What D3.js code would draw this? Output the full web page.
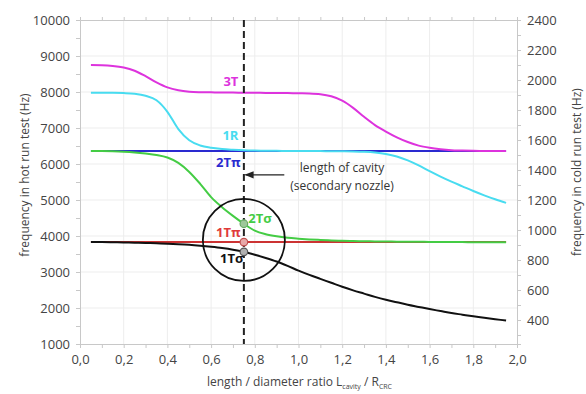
<!DOCTYPE html>
<html>
<head>
<meta charset="utf-8">
<script src="https://cdn.jsdelivr.net/npm/d3@7"></script>
<style>
  body { margin: 0; background: #fff; }
  text { font-family: 'Open Sans', 'Noto Sans', sans-serif; }
</style>
</head>
<body>
<svg id="chart" width="586" height="394"></svg>
<script>
// length / diameter ratio
const ratio = [0.05, 0.1, 0.15, 0.2, 0.25, 0.3, 0.35, 0.4, 0.45, 0.5, 0.55, 0.6, 0.65, 0.7,
  0.75, 0.8, 0.85, 0.9, 0.95, 1.0, 1.05, 1.1, 1.15, 1.2, 1.25, 1.3, 1.35, 1.4, 1.45, 1.5,
  1.55, 1.6, 1.65, 1.7, 1.75, 1.8, 1.85, 1.9, 1.95];
const ratioFlat = [0.05, 1.95];

// frequency in hot run test (Hz)
const mode3T = [8750, 8745, 8725, 8680, 8590, 8440, 8270, 8130, 8050, 8010, 7995, 7990, 7985, 7985,
  7980, 7980, 7975, 7975, 7970, 7965, 7960, 7940, 7880, 7760, 7560, 7310, 7080, 6900, 6740, 6610,
  6510, 6450, 6410, 6385, 6375, 6365, 6360, 6360, 6360];
const mode1R = [7980, 7980, 7978, 7970, 7950, 7895, 7770, 7450, 6970, 6660, 6515, 6450, 6415, 6395,
  6380, 6372, 6368, 6365, 6362, 6360, 6360, 6358, 6356, 6354, 6350, 6340, 6320, 6280, 6210, 6100,
  5960, 5800, 5650, 5510, 5380, 5250, 5130, 5020, 4920];
const mode2Tpi = [6360, 6360];
const mode2Tsigma = [6360, 6358, 6352, 6340, 6320, 6290, 6250, 6180, 6030, 5780, 5450, 5080, 4800, 4560,
  4340, 4150, 4050, 3990, 3950, 3925, 3905, 3890, 3878, 3868, 3860, 3855, 3850, 3846, 3843, 3840,
  3838, 3836, 3834, 3832, 3830, 3828, 3826, 3825, 3825];
const mode1Tpi = [3830, 3830];
const mode1Tsigma = [3830, 3830, 3826, 3820, 3814, 3806, 3797, 3787, 3773, 3755, 3730, 3700, 3665, 3620,
  3560, 3480, 3390, 3290, 3170, 3040, 2920, 2810, 2700, 2590, 2490, 2400, 2310, 2230, 2160, 2090,
  2030, 1970, 1915, 1860, 1815, 1770, 1730, 1690, 1650];

// design point: length of cavity
const cavityRatio = 0.75;
const cavityPoints = [
  { mode: '2Tσ', value: 4340, fill: '#9ec89a', stroke: '#6aa866' },
  { mode: '1Tπ', value: 3830, fill: '#e8a8a8', stroke: '#c05050' },
  { mode: '1Tσ', value: 3560, fill: '#b0b0b0', stroke: '#555' }
];

const series = [
  { name: '2Tπ', xs: ratioFlat, values: mode2Tpi, color: '#2a2ad0' },
  { name: '1Tπ', xs: ratioFlat, values: mode1Tpi, color: '#cc3333' },
  { name: '1Tσ', xs: ratio, values: mode1Tsigma, color: '#111' },
  { name: '2Tσ', xs: ratio, values: mode2Tsigma, color: '#44cc44' },
  { name: '1R', xs: ratio, values: mode1R, color: '#48dcf0' },
  { name: '3T', xs: ratio, values: mode3T, color: '#dd33dd' }
];

let svg = d3.select('#chart');
const plotLeft = 80, plotRight = 517, plotTop = 20, plotBottom = 344;

let x = d3.scaleLinear().domain([0, 2]).range([plotLeft, plotRight]);
let yHot = d3.scaleLinear().domain([1000, 10000]).range([plotBottom, plotTop]);
let yCold = d3.scaleLinear().domain([240, 2400]).range([plotBottom, plotTop]);

const gridColor = '#ededed', axisColor = '#c8c8c8', labelColor = '#444';

// grid
svg.append('g').selectAll('line')
  .data(d3.range(0.2, 1.9, 0.2))
  .enter().append('line')
  .attr('x1', (d) => x(d)).attr('x2', (d) => x(d))
  .attr('y1', plotTop).attr('y2', plotBottom)
  .attr('stroke', gridColor);
svg.append('g').selectAll('line')
  .data(d3.range(2000, 10000, 1000))
  .enter().append('line')
  .attr('x1', plotLeft).attr('x2', plotRight)
  .attr('y1', (d) => yHot(d)).attr('y2', (d) => yHot(d))
  .attr('stroke', gridColor);

// axes
function styleAxis(g) {
  g.select('.domain').attr('stroke', axisColor);
  g.selectAll('.tick line').attr('stroke', axisColor);
  g.selectAll('.tick text').attr('fill', labelColor).style('font-size', '13px');
}

let fmt = (d) => d.toFixed(1).replace('.', ',');

svg.append('g')
  .attr('transform', 'translate(0,' + plotBottom + ')')
  .call(d3.axisBottom(x).tickValues(d3.range(0, 2.01, 0.1)).tickSize(4).tickPadding(7)
    .tickFormat((d, i) => i % 2 ? '' : fmt(d)))
  .call(styleAxis);
svg.append('g')
  .attr('transform', 'translate(0,' + plotTop + ')')
  .call(d3.axisTop(x).tickValues(d3.range(0, 2.01, 0.1)).tickSize(3).tickFormat(''))
  .call(styleAxis);
svg.append('g')
  .attr('transform', 'translate(' + plotLeft + ',0)')
  .call(d3.axisLeft(yHot).tickValues(d3.range(1000, 10001, 500)).tickSize(4).tickPadding(6)
    .tickFormat((d) => d % 1000 ? '' : d))
  .call(styleAxis);
svg.append('g')
  .attr('transform', 'translate(' + plotRight + ',0)')
  .call(d3.axisRight(yCold).tickValues(d3.range(300, 2401, 100)).tickSize(4).tickPadding(6)
    .tickFormat((d) => d % 200 ? '' : d))
  .call(styleAxis);

// axis titles
svg.append('text')
  .attr('transform', 'translate(29,175) rotate(-90)')
  .attr('text-anchor', 'middle')
  .attr('fill', labelColor)
  .style('font-size', '12px')
  .text('frequency in hot run test (Hz)');
svg.append('text')
  .attr('transform', 'translate(581,172) rotate(-90)')
  .attr('text-anchor', 'middle')
  .attr('fill', labelColor)
  .style('font-size', '12px')
  .text('frequency in cold run test (Hz)');

let xTitle = svg.append('text')
  .attr('x', (plotLeft + plotRight) / 2 + 1)
  .attr('y', 386)
  .attr('text-anchor', 'middle')
  .attr('fill', labelColor)
  .style('font-size', '12px');
xTitle.append('tspan').text('length / diameter ratio L');
xTitle.append('tspan').attr('dy', 3).style('font-size', '7px').text('cavity');
xTitle.append('tspan').attr('dy', -3).text(' / R');
xTitle.append('tspan').attr('dy', 3).style('font-size', '7px').text('CRC');

// curves
let line = d3.line()
  .x((d) => x(d[0]))
  .y((d) => yHot(d[1]))
  .curve(d3.curveMonotoneX);

svg.append('g').selectAll('path')
  .data(series)
  .enter().append('path')
  .attr('d', (s) => line(s.xs.map((r, i) => [r, s.values[i]])))
  .attr('fill', 'none')
  .attr('stroke', (s) => s.color)
  .attr('stroke-width', 2);

// cavity length marker line
svg.append('line')
  .attr('x1', x(cavityRatio)).attr('x2', x(cavityRatio))
  .attr('y1', plotTop).attr('y2', plotBottom)
  .attr('stroke', '#222')
  .attr('stroke-width', 2)
  .attr('stroke-dasharray', '7,4');

// circle highlighting the crossing region
svg.append('circle')
  .attr('cx', x(cavityRatio))
  .attr('cy', yHot(3890))
  .attr('r', 41)
  .attr('fill', 'none')
  .attr('stroke', '#111')
  .attr('stroke-width', 1.8);

svg.append('g').selectAll('circle')
  .data(cavityPoints)
  .enter().append('circle')
  .attr('cx', x(cavityRatio))
  .attr('cy', (d) => yHot(d.value))
  .attr('r', 3.8)
  .attr('fill', (d) => d.fill)
  .attr('stroke', (d) => d.stroke)
  .attr('stroke-width', 1.2);

// mode labels
const modeLabels = [
  { text: '3T', x: 0.725, y: 8280, color: '#dd33dd', anchor: 'end' },
  { text: '1R', x: 0.725, y: 6780, color: '#48dcf0', anchor: 'end' },
  { text: '2Tπ', x: 0.735, y: 6030, color: '#2a2ad0', anchor: 'end' },
  { text: '2Tσ', x: 0.77, y: 4500, color: '#44cc44', anchor: 'start' },
  { text: '1Tπ', x: 0.735, y: 4110, color: '#e03a3a', anchor: 'end' },
  { text: '1Tσ', x: 0.748, y: 3390, color: '#111', anchor: 'end' }
];
svg.append('g').selectAll('text')
  .data(modeLabels)
  .enter().append('text')
  .attr('x', (d) => x(d.x))
  .attr('y', (d) => yHot(d.y))
  .attr('dy', '0.35em')
  .attr('text-anchor', (d) => d.anchor)
  .attr('fill', (d) => d.color)
  .style('font-size', '13px')
  .style('font-weight', 'bold')
  .text((d) => d.text);

// annotation
svg.append('defs').append('marker')
  .attr('id', 'arrow')
  .attr('viewBox', '0 0 10 10')
  .attr('refX', 9).attr('refY', 5)
  .attr('markerWidth', 7).attr('markerHeight', 7)
  .attr('orient', 'auto')
  .append('path')
  .attr('d', 'M0,1 L10,5 L0,9 z')
  .attr('fill', '#222');
svg.append('line')
  .attr('x1', x(0.935)).attr('x2', x(0.757))
  .attr('y1', yHot(5700)).attr('y2', yHot(5700))
  .attr('stroke', '#222')
  .attr('stroke-width', 1.3)
  .attr('marker-end', 'url(#arrow)');
svg.append('text')
  .attr('x', 342).attr('y', 172)
  .attr('text-anchor', 'middle')
  .attr('fill', '#333')
  .style('font-size', '12px')
  .text('length of cavity');
svg.append('text')
  .attr('x', 342).attr('y', 190)
  .attr('text-anchor', 'middle')
  .attr('fill', '#333')
  .style('font-size', '12px')
  .text('(secondary nozzle)');
</script>
</body>
</html>
